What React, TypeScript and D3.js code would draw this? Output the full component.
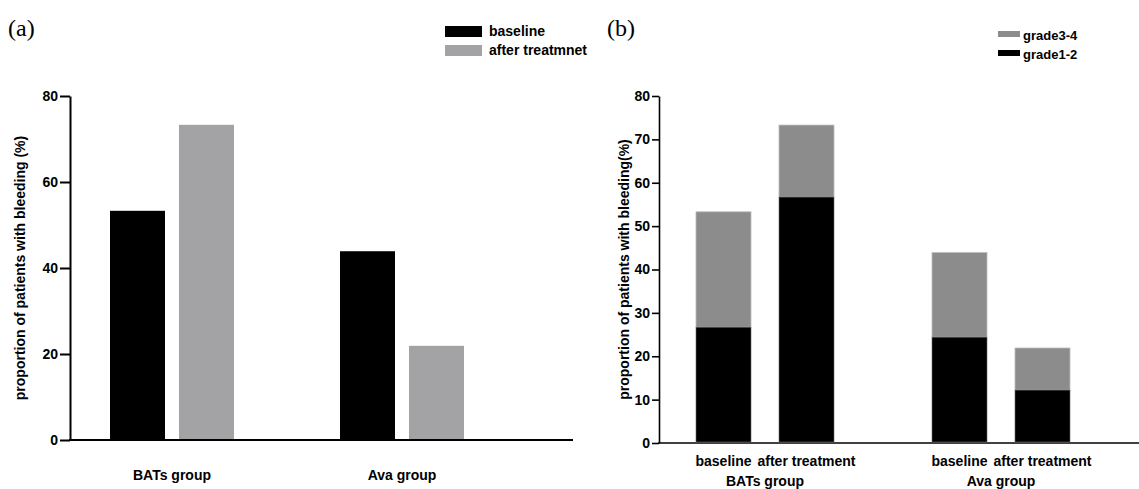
import React, { useEffect, useRef } from 'react';
import * as d3 from 'd3';

// panel (a)
const groups = ['BATs group', 'Ava group'];
const seriesA = ['baseline', 'after treatmnet'];
const baselineA = [53.3, 43.9];
const afterA = [73.3, 21.9];
const ticksA = [0, 20, 40, 60, 80];

// panel (b)
const timepoints = ['baseline', 'after treatment'];
const grade12 = [26.7, 56.7, 24.4, 12.2]; // BATs base, BATs after, Ava base, Ava after
const grade34 = [26.6, 16.6, 19.5, 9.7];
const ticksB = [0, 10, 20, 30, 40, 50, 60, 70, 80];
const legendB = ['grade3-4', 'grade1-2'];

const FONT = '"Liberation Sans", Arial, sans-serif';
const GRAY_A = '#a3a3a6';
const GRAY_B = '#8c8c8c';

export default function App() {
  const node = useRef<SVGSVGElement>(null);

  useEffect(() => {
    const svg = d3.select(node.current);
    svg.selectAll('*').remove();

    /* ---------- panel (a) ---------- */
    const yA = d3.scaleLinear().domain([0, 80]).range([440, 96]);
    const xA = d3.scaleBand().domain(groups).range([57, 517]);
    const subA = d3.scaleBand().domain(seriesA).range([-62, 62]).paddingInner(14 / 69);

    const a = svg.append('g');
    a.append('text').attr('x', 8).attr('y', 36)
      .attr('font-family', '"Liberation Serif", "Times New Roman", serif')
      .attr('font-size', 24).text('(a)');

    const axA = a.append('g').attr('transform', 'translate(70,0)')
      .call(d3.axisLeft(yA).tickValues(ticksA).tickSize(10).tickSizeOuter(0).tickPadding(2));
    axA.select('.domain').attr('stroke-width', 2);
    axA.selectAll('.tick line').attr('stroke-width', 2);
    axA.selectAll('.tick text').attr('font-family', FONT).attr('font-weight', 'bold')
      .attr('font-size', 14).attr('fill', '#000');

    a.append('line').attr('x1', 69).attr('x2', 573)
      .attr('y1', yA(0)).attr('y2', yA(0))
      .attr('stroke', '#000').attr('stroke-width', 2);

    const barsA = groups.flatMap((g, i) => [
      { g, s: seriesA[0], v: baselineA[i], c: '#000' },
      { g, s: seriesA[1], v: afterA[i], c: GRAY_A },
    ]);
    a.selectAll('rect.bar').data(barsA).enter().append('rect')
      .attr('class', 'bar')
      .attr('x', (d) => xA(d.g)! + xA.bandwidth() / 2 + subA(d.s)!)
      .attr('width', subA.bandwidth())
      .attr('y', (d) => yA(d.v))
      .attr('height', (d) => yA(0) - yA(d.v) - 1)
      .attr('fill', (d) => d.c);

    a.selectAll('text.grp').data(groups).enter().append('text')
      .attr('class', 'grp')
      .attr('x', (d) => xA(d)! + xA.bandwidth() / 2)
      .attr('y', 480)
      .attr('text-anchor', 'middle')
      .attr('font-family', FONT).attr('font-weight', 'bold').attr('font-size', 14)
      .text((d) => d);

    a.append('text')
      .attr('transform', `translate(25,${(96 + 440) / 2}) rotate(-90)`)
      .attr('text-anchor', 'middle')
      .attr('font-family', FONT).attr('font-weight', 'bold').attr('font-size', 14)
      .text('proportion of patients with bleeding (%)');

    const legA = a.selectAll('g.leg').data(seriesA).enter().append('g')
      .attr('transform', (d, i) => `translate(445,${26 + i * 19})`);
    legA.append('rect').attr('width', 37).attr('height', 11)
      .attr('fill', (d, i) => (i === 0 ? '#000' : GRAY_A));
    legA.append('text').attr('x', 44).attr('y', 10)
      .attr('font-family', FONT).attr('font-weight', 'bold').attr('font-size', 14)
      .text((d) => d);

    /* ---------- panel (b) ---------- */
    const yB = d3.scaleLinear().domain([0, 80]).range([443, 96]);
    const xB = d3.scaleBand().domain(groups).range([647, 1119]);
    const subB = d3.scaleBand().domain(timepoints).range([-69, 69]).paddingInner(28 / 83);

    const b = svg.append('g');
    b.append('text').attr('x', 607).attr('y', 36)
      .attr('font-family', '"Liberation Serif", "Times New Roman", serif')
      .attr('font-size', 24).text('(b)');

    const axB = b.append('g').attr('transform', 'translate(659,0)')
      .call(d3.axisLeft(yB).tickValues(ticksB).tickSize(7).tickSizeOuter(0).tickPadding(2));
    axB.select('.domain').attr('stroke-width', 1.6);
    axB.selectAll('.tick line').attr('stroke-width', 1.6);
    axB.selectAll('.tick text').attr('font-family', FONT).attr('font-weight', 'bold')
      .attr('font-size', 14).attr('fill', '#000');

    b.append('line').attr('x1', 658).attr('x2', 1139)
      .attr('y1', yB(0)).attr('y2', yB(0))
      .attr('stroke', '#000').attr('stroke-width', 1.6);

    const barsB = groups.flatMap((g, i) => timepoints.map((t, j) => ({
      g, t, lo: grade12[i * 2 + j], hi: grade34[i * 2 + j],
    })));
    const cx = (d: { g: string; t: string }) => xB(d.g)! + xB.bandwidth() / 2 + subB(d.t)!;

    b.selectAll('rect.hi').data(barsB).enter().append('rect')
      .attr('x', cx).attr('width', subB.bandwidth())
      .attr('y', (d) => yB(d.lo + d.hi))
      .attr('height', (d) => yB(d.lo) - yB(d.lo + d.hi))
      .attr('fill', GRAY_B).attr('stroke', '#bbb').attr('stroke-width', 0.8);
    b.selectAll('rect.lo').data(barsB).enter().append('rect')
      .attr('x', cx).attr('width', subB.bandwidth())
      .attr('y', (d) => yB(d.lo))
      .attr('height', (d) => yB(0) - yB(d.lo) - 1)
      .attr('fill', '#000').attr('stroke', '#666').attr('stroke-width', 0.6);

    b.selectAll('text.cat').data(barsB).enter().append('text')
      .attr('x', (d) => cx(d) + subB.bandwidth() / 2)
      .attr('y', 466)
      .attr('text-anchor', 'middle')
      .attr('font-family', FONT).attr('font-weight', 'bold').attr('font-size', 14)
      .text((d) => d.t);

    b.selectAll('text.grp').data(groups).enter().append('text')
      .attr('x', (d) => xB(d)! + xB.bandwidth() / 2)
      .attr('y', 486)
      .attr('text-anchor', 'middle')
      .attr('font-family', FONT).attr('font-weight', 'bold').attr('font-size', 14)
      .text((d) => d);

    b.append('text')
      .attr('transform', `translate(629,${(96 + 443) / 2}) rotate(-90)`)
      .attr('text-anchor', 'middle')
      .attr('font-family', FONT).attr('font-weight', 'bold').attr('font-size', 14)
      .text('proportion of patients with bleeding(%)');

    const legB = b.selectAll('g.leg').data(legendB).enter().append('g')
      .attr('transform', (d, i) => `translate(998,${31 + i * 19})`);
    legB.append('rect').attr('width', 22).attr('height', 6)
      .attr('fill', (d, i) => (i === 0 ? GRAY_B : '#000'));
    legB.append('text').attr('x', 25).attr('y', 9)
      .attr('font-family', FONT).attr('font-weight', 'bold').attr('font-size', 13)
      .text((d) => d);
  }, []);

  return (
    <svg ref={node} width={1139} height={489}
      style={{ position: 'absolute', left: 0, top: 0, background: '#fff' }} />
  );
}
